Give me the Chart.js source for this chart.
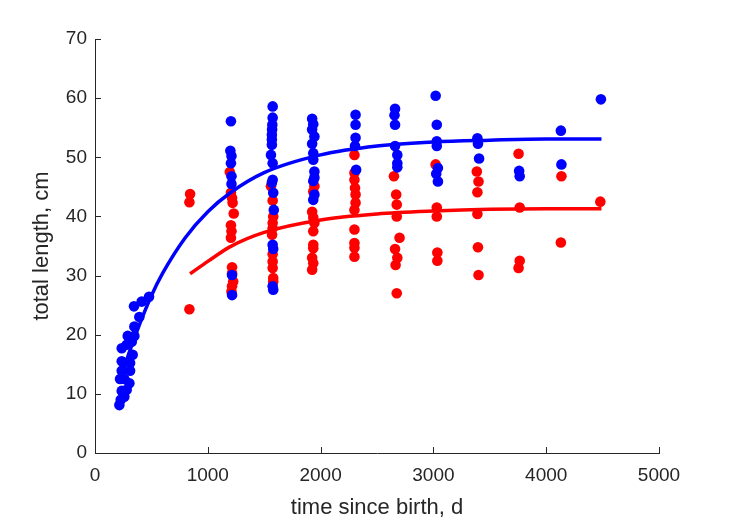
<!DOCTYPE html>
<html>
<head>
<meta charset="utf-8">
<script src="https://cdn.jsdelivr.net/npm/chart.js@4.4.1/dist/chart.umd.min.js"></script>
<style>
  html, body { margin: 0; padding: 0; background: #fff; }
  canvas { display: block; }
</style>
</head>
<body>
<canvas id="chart" width="729" height="521"></canvas>
<script>
// measured points, blue group
const blueT = [
    216, 228, 260, 237, 281, 305, 222, 260, 237, 311, 237, 311, 334, 237, 281, 326, 290, 349, 349, 393, 346, 414, 479,
    1205, 1200, 1210, 1205, 1210, 1210, 1215, 1215,
    1575, 1575, 1572, 1570, 1568, 1568, 1568, 1560, 1575, 1575, 1568, 1580, 1585, 1575, 1580, 1575, 1580,
    1925, 1935, 1925, 1945, 1925, 1935, 1935, 1945, 1945, 1935, 1945, 1935,
    2310, 2310, 2310, 2305, 2315,
    2660, 2655, 2660, 2660, 2680, 2680, 2680,
    3020, 3030, 3030, 3030, 3040, 3025, 3040,
    3390, 3395, 3405,
    3760, 3765,
    4130, 4135,
    4485
]
const blueL = [
    8.1, 9.0, 9.5, 10.5, 10.7, 11.8, 12.5, 12.5, 13.9, 13.9, 15.5, 15.2, 16.6, 17.7, 18.3, 18.8, 19.8, 19.8, 21.4, 23.0, 24.8, 25.6, 26.4,
    56.1, 51.1, 50.2, 49.0, 46.8, 45.5, 30.1, 26.7,
    58.6, 56.7, 55.5, 54.7, 53.8, 53.0, 52.1, 50.4, 49.0, 46.2, 45.7, 44.0, 41.1, 35.2, 34.5, 28.2, 27.6,
    56.5, 55.6, 54.7, 53.5, 52.3, 50.7, 49.6, 47.6, 46.6, 46.0, 43.7, 42.8,
    57.2, 55.5, 53.3, 51.9, 47.9,
    58.2, 57.1, 55.5, 51.9, 50.4, 49.0, 48.3,
    60.4, 55.5, 52.7, 51.9, 48.2, 47.2, 45.9,
    53.2, 52.3, 49.8,
    47.7, 46.8,
    54.5, 48.8,
    59.8
]

// measured points, red group
const redT = [
    843, 837, 837,
    1195, 1205, 1215, 1220, 1230, 1205, 1210, 1205, 1215, 1215, 1225, 1215, 1210,
    1560, 1575, 1580, 1575, 1575, 1570, 1575, 1575, 1575, 1580, 1580,
    1945, 1935, 1925, 1935, 1945, 1935, 1935, 1935, 1925, 1935, 1925,
    2300, 2300, 2300, 2305, 2310, 2310, 2300, 2300, 2300, 2300, 2300,
    2650, 2670, 2675, 2675, 2700, 2660, 2680, 2665, 2675,
    3020, 3030, 3030, 3035, 3035,
    3385, 3400, 3390, 3390, 3395, 3400,
    3755, 3765, 3765, 3755,
    4135, 4130,
    4480
]
const redL = [
    43.8, 42.4, 24.3,
    47.5, 44.0, 43.1, 42.3, 40.5, 38.5, 37.5, 36.4, 31.4, 30.4, 29.0, 28.2, 27.3,
    45.1, 42.7, 40.0, 38.9, 38.0, 36.9, 33.6, 32.4, 31.3, 29.6, 29.0,
    45.1, 44.2, 40.8, 39.8, 38.9, 37.5, 35.2, 34.6, 33.0, 32.1, 31.0,
    50.4, 47.4, 46.2, 44.8, 43.7, 42.3, 41.1, 37.8, 35.5, 34.7, 33.2,
    46.8, 43.7, 42.0, 40.0, 36.4, 34.5, 33.0, 31.8, 27.0,
    48.8, 41.5, 40.0, 33.9, 32.5,
    47.6, 45.9, 44.1, 40.4, 34.8, 30.1,
    50.6, 41.5, 32.5, 31.3,
    46.8, 35.6,
    42.5
]

// growth curves
const blueFitT = [220, 300, 400, 500, 600, 800, 1000, 1200, 1500, 2000, 2500, 3000, 3500, 4000, 4490]
const blueFitL = [12.1, 16.8, 22.0, 26.6, 30.4, 36.4, 40.8, 44.0, 47.4, 50.4, 51.9, 52.6, 52.9, 53.1, 53.1]
const redFitT = [843, 1000, 1200, 1500, 2000, 2500, 3000, 3500, 4000, 4490]
const redFitL = [30.3, 32.4, 34.9, 37.3, 39.4, 40.4, 40.9, 41.2, 41.3, 41.3]

const xTicks = [0, 1000, 2000, 3000, 4000, 5000]
const yTicks = [0, 10, 20, 30, 40, 50, 60, 70]

const pts = (xs, ys) => xs.map((x, i) => ({ x: x, y: ys[i] }))

const ink = '#262626'
const font = 'Liberation Sans, Arial, Helvetica, sans-serif'

// matlab style ticks pointing into the plot
const innerTicks = {
    id: 'innerTicks',
    afterDraw(chart) {
        const { ctx, chartArea, scales } = chart
        ctx.save()
        ctx.strokeStyle = ink
        ctx.lineWidth = 1
        ctx.beginPath()
        xTicks.forEach(v => {
            const px = Math.round(scales.x.getPixelForValue(v)) + 0.5
            ctx.moveTo(px, chartArea.bottom)
            ctx.lineTo(px, chartArea.bottom - 6)
        })
        yTicks.forEach(v => {
            const py = Math.round(scales.y.getPixelForValue(v)) + 0.5
            ctx.moveTo(chartArea.left, py)
            ctx.lineTo(chartArea.left + 6, py)
        })
        ctx.stroke()
        ctx.restore()
    },
}

new Chart(document.getElementById('chart'), {
    type: 'scatter',
    data: {
        datasets: [
            {
                label: 'blue fit',
                data: pts(blueFitT, blueFitL),
                showLine: true,
                borderColor: '#0000ff',
                borderWidth: 3.5,
                pointRadius: 0,
                cubicInterpolationMode: 'monotone',
                order: 1,
            },
            {
                label: 'red fit',
                data: pts(redFitT, redFitL),
                showLine: true,
                borderColor: '#ff0000',
                borderWidth: 3.5,
                pointRadius: 0,
                cubicInterpolationMode: 'monotone',
                order: 2,
            },
            {
                label: 'blue',
                data: pts(blueT, blueL),
                backgroundColor: '#0000ff',
                borderWidth: 0,
                pointRadius: 5.3,
                order: 3,
            },
            {
                label: 'red',
                data: pts(redT, redL),
                backgroundColor: '#ff0000',
                borderWidth: 0,
                pointRadius: 5.3,
                order: 4,
            },
        ],
    },
    options: {
        responsive: false,
        animation: false,
        layout: { padding: { top: 39, right: 70, left: 0, bottom: 0 } },
        plugins: {
            legend: { display: false },
            tooltip: { enabled: false },
        },
        scales: {
            x: {
                type: 'linear',
                min: 0,
                max: 5000,
                afterFit: s => { s.height = 68 },
                afterBuildTicks: s => { s.ticks = xTicks.map(v => ({ value: v })) },
                grid: { drawOnChartArea: false, drawTicks: false },
                border: { color: ink, width: 1 },
                ticks: {
                    color: ink,
                    padding: 11,
                    font: { family: font, size: 19 },
                    maxRotation: 0,
                    callback: v => String(v),
                },
                title: {
                    display: true,
                    text: 'time since birth, d',
                    color: ink,
                    font: { family: font, size: 22 },
                    padding: { top: 0, bottom: 0 },
                },
            },
            y: {
                type: 'linear',
                min: 0,
                max: 70,
                afterFit: s => { s.width = 95 },
                afterBuildTicks: s => { s.ticks = yTicks.map(v => ({ value: v })) },
                grid: { drawOnChartArea: false, drawTicks: false },
                border: { color: ink, width: 1 },
                ticks: {
                    color: ink,
                    padding: 8,
                    font: { family: font, size: 19 },
                    callback: v => String(v),
                },
                title: {
                    display: true,
                    text: 'total length, cm',
                    color: ink,
                    font: { family: font, size: 22 },
                    padding: { top: 29, bottom: 0 },
                },
            },
        },
    },
    plugins: [innerTicks],
})
</script>
</body>
</html>
